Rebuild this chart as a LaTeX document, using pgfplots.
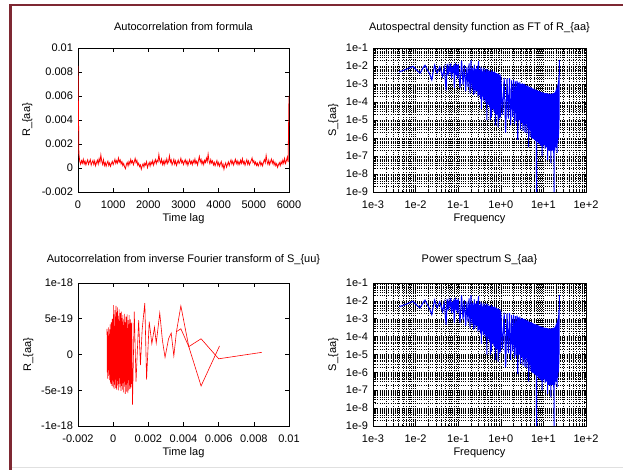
\documentclass[border=0pt]{standalone}
\usepackage{fontspec}
\setmainfont{Liberation Sans}
\usepackage{pgfplots}
\usepackage{pgfplotstable}
\pgfplotsset{compat=1.18}
\definecolor{framered}{HTML}{7E2832}
\newcommand{\gpfont}{\fontsize{11bp}{13bp}\selectfont}

\pgfplotsset{
  gp/.style={
    scale only axis, width=211bp, height=144bp,
    scaled x ticks=false, scaled y ticks=false,
    tick align=inside, major tick length=4bp, minor tick length=2.5bp,
    axis line style={black, line width=0.7bp},
    every tick/.style={black, line width=0.6bp},
    tick label style={font=\gpfont},
    label style={font=\gpfont},
    title style={font=\gpfont, anchor=base},
    /pgf/number format/assume math mode=true,
    xticklabel style={anchor=base, yshift=-16bp},
    yticklabel style={xshift=-1.5bp},
    xlabel style={anchor=base},
    ylabel style={anchor=base},
  },
  gplog/.style={
    gp, width=213bp,
    xmin=1e-3, xmax=1e2, ymin=1e-9, ymax=1e-1,
    xtick={1e-3,1e-2,1e-1,1,10,100},
    xticklabels={1e-3,1e-2,1e-1,1e+0,1e+1,1e+2},
    ytick={1e-9,1e-8,1e-7,1e-6,1e-5,1e-4,1e-3,1e-2,1e-1},
    yticklabels={1e-9,1e-8,1e-7,1e-6,1e-5,1e-4,1e-3,1e-2,1e-1},
    grid=both,
    major grid style={black, line width=0.5bp, dash pattern=on 0.6bp off 1.6bp},
    minor grid style={black, line width=0.5bp, dash pattern=on 0.6bp off 1.6bp},
    xlabel={Frequency}, ylabel={S\_\{aa\}},
  },
}

% spectrum (same data in both right-hand panels)
\pgfplotstableread[row sep=\\]{
f S\\
0.0041 4.7e-3\\ 0.0060 6.5e-3\\ 0.0087 9.5e-3\\ 0.0105 6e-3\\ 0.0127 4e-3\\ 0.0150 8e-3\\
0.0166 1.1e-2\\ 0.0190 6e-3\\ 0.0215 3.5e-3\\ 0.0240 1.7e-3\\ 0.0260 5e-3\\ 0.0280 1.1e-2\\
0.0320 4e-3\\ 0.0370 9e-3\\ 0.0430 2.5e-3\\ 0.0470 8e-3\\ 0.0520 4.5e-4\\ 0.0550 1.3e-2\\
0.0580 3e-3\\ 0.0610 1.0e-2\\ 0.0640 5e-3\\ 0.0670 1.4e-2\\ 0.0700 2e-3\\ 0.0730 9e-3\\
0.0760 4e-3\\ 0.0790 1.2e-2\\ 0.0810 6e-4\\ 0.0840 8e-3\\ 0.0870 1.5e-2\\ 0.0900 3e-3\\
0.0930 1.1e-2\\ 0.0960 2e-3\\
0.10 1.3e-2\\ 0.11 6e-4\\ 0.12 2.0e-2\\ 0.13 9e-4\\ 0.14 1.1e-2\\ 0.15 4e-4\\ 0.16 9e-3\\
0.17 7e-4\\ 0.18 1.4e-2\\ 0.19 3e-4\\ 0.20 2.1e-2\\ 0.21 5e-4\\ 0.22 8e-3\\ 0.23 2.5e-4\\
0.24 1.2e-2\\ 0.25 3e-4\\ 0.26 7e-3\\ 0.27 4e-4\\ 0.28 1.0e-2\\ 0.29 2e-4\\ 0.30 1.9e-2\\
0.31 2.5e-4\\ 0.32 6e-3\\ 0.33 1.5e-4\\ 0.34 9e-3\\ 0.35 4e-5\\ 0.36 7e-3\\ 0.37 2e-4\\
0.38 5e-3\\ 0.39 1.2e-4\\ 0.40 8e-3\\ 0.41 1.5e-4\\ 0.42 6e-3\\ 0.43 9e-5\\ 0.44 4.5e-3\\
0.45 1.2e-4\\ 0.46 7e-3\\ 0.47 1e-5\\ 0.48 5e-3\\ 0.49 1e-4\\ 0.50 6.5e-3\\ 0.51 7e-5\\
0.52 4e-3\\ 0.53 9e-5\\ 0.54 5.5e-3\\ 0.55 5e-5\\ 0.56 4.5e-3\\ 0.57 1e-5\\ 0.58 3.5e-3\\
0.59 4.5e-5\\ 0.60 6e-3\\ 0.61 1.5e-5\\ 0.62 4e-3\\ 0.63 6e-5\\ 0.64 5e-3\\ 0.65 4e-5\\
0.66 3.5e-3\\ 0.67 5e-5\\ 0.68 4.5e-3\\ 0.69 3e-5\\ 0.70 3.8e-3\\ 0.71 4.5e-5\\ 0.72 5e-3\\
0.73 2.5e-5\\ 0.74 3e-3\\ 0.75 5e-6\\ 0.76 4.2e-3\\ 0.77 2e-5\\ 0.78 3.3e-3\\ 0.79 3.5e-5\\
0.80 4e-3\\ 0.81 2e-5\\ 0.82 2.8e-3\\ 0.83 3e-5\\ 0.84 3.6e-3\\ 0.85 1.8e-5\\ 0.86 3e-3\\
0.87 4e-6\\ 0.88 3.8e-3\\ 0.89 2.5e-5\\ 0.90 2.7e-3\\ 0.91 1.5e-5\\ 0.92 3.2e-3\\ 0.93 2.2e-5\\
0.94 2.5e-3\\ 0.95 1.2e-5\\ 0.96 3.4e-3\\ 0.97 2e-5\\ 0.98 2.6e-3\\ 0.99 1.5e-5\\
1.0 2.6e-3\\ 1.1 2e-5\\ 1.2 2.2e-3\\ 1.3 2e-6\\ 1.4 2.0e-3\\ 1.5 1.2e-5\\ 1.6 2.1e-3\\
1.7 5e-6\\ 1.8 1.6e-3\\ 1.9 1.5e-5\\ 2.0 1.7e-3\\ 2.1 6e-6\\ 2.2 1.4e-3\\ 2.3 9e-6\\
2.4 1.5e-3\\ 2.5 8e-7\\ 2.6 1.2e-3\\ 2.7 1e-5\\ 2.8 1.3e-3\\ 2.9 3e-6\\ 3.0 1.0e-3\\
3.1 7e-6\\ 3.2 1.1e-3\\ 3.3 2.5e-6\\ 3.4 9.5e-4\\ 3.5 5e-6\\ 3.6 1.0e-3\\ 3.7 2e-6\\
3.8 8e-4\\ 3.9 6e-6\\ 4.0 8.5e-4\\ 4.1 1.8e-6\\ 4.2 7.5e-4\\ 4.3 4e-6\\ 4.4 8e-4\\
4.5 3e-7\\ 4.6 6.5e-4\\ 4.7 3.5e-6\\ 4.8 7e-4\\ 4.9 1.2e-6\\ 5.0 6e-4\\ 5.1 3e-6\\
5.2 6.5e-4\\ 5.3 1e-6\\ 5.4 5.5e-4\\ 5.5 2.5e-6\\ 5.6 5.8e-4\\ 5.7 9e-7\\ 5.8 5e-4\\
5.9 2e-6\\ 6.0 5.4e-4\\ 6.1 8e-7\\ 6.2 4.6e-4\\ 6.3 1.8e-6\\ 6.4 5e-4\\ 6.5 7e-7\\
6.6 4.3e-4\\ 6.7 1.5e-6\\ 6.8 4.7e-4\\ 6.9 1e-9\\ 7.0 4.0e-4\\ 7.1 1.2e-6\\ 7.2 4.4e-4\\
7.3 6e-7\\ 7.4 3.8e-4\\ 7.5 1.4e-6\\ 7.6 4.2e-4\\ 7.7 5e-7\\ 7.8 3.6e-4\\ 7.9 1e-6\\
8.0 4.0e-4\\ 8.1 4.5e-7\\ 8.2 3.5e-4\\ 8.3 9e-7\\ 8.4 3.8e-4\\ 8.5 4e-7\\ 8.6 3.4e-4\\
8.7 8e-7\\ 8.8 3.6e-4\\ 8.9 3.5e-7\\ 9.0 3.3e-4\\ 9.1 7e-7\\ 9.2 3.5e-4\\ 9.3 1e-7\\
9.4 3.2e-4\\ 9.5 6e-7\\ 9.6 3.4e-4\\ 9.7 3e-7\\ 9.8 3.1e-4\\ 9.9 5e-7\\
10.0 3.3e-4\\ 10.2 4e-7\\ 10.4 3.0e-4\\ 10.6 8e-7\\ 10.8 3.2e-4\\ 11.0 2.5e-7\\ 11.2 2.8e-4\\
11.4 6e-7\\ 11.6 3.1e-4\\ 11.8 3e-7\\ 12.0 2.7e-4\\ 12.2 7e-7\\ 12.4 3.0e-4\\ 12.6 6e-8\\
12.8 2.6e-4\\ 13.0 5e-7\\ 13.2 2.9e-4\\ 13.4 2e-7\\ 13.6 2.5e-4\\ 13.8 6e-7\\ 14.0 2.8e-4\\
14.2 2e-7\\ 14.4 2.6e-4\\ 14.6 5e-7\\ 14.8 2.9e-4\\ 15.0 4e-8\\ 15.2 2.5e-4\\ 15.4 4e-7\\
15.6 2.8e-4\\ 15.8 2e-7\\ 16.0 2.6e-4\\ 16.2 5e-7\\ 16.4 3.0e-4\\ 16.6 2e-7\\ 16.8 2.7e-4\\
17.0 4e-7\\ 17.2 3.1e-4\\ 17.4 1.5e-7\\ 17.6 2.8e-4\\ 17.8 1e-9\\ 18.0 3.2e-4\\ 18.2 3e-7\\
18.4 3.0e-4\\ 18.6 2e-7\\ 18.8 3.5e-4\\ 19.0 5e-7\\ 19.2 3.8e-4\\ 19.4 3e-7\\ 19.6 4.2e-4\\
19.8 6e-7\\ 20.0 4.8e-4\\ 20.2 3e-7\\ 20.4 5.2e-4\\ 20.6 7e-7\\ 20.8 6e-4\\ 21.0 1.5e-7\\
21.2 6.8e-4\\ 21.4 9e-7\\ 21.6 8e-4\\ 21.8 5e-7\\ 22.0 9.5e-4\\ 22.2 1.5e-6\\ 22.4 1.2e-3\\
22.6 1e-6\\ 22.8 1.6e-3\\ 23.0 3e-6\\ 23.2 3e-3\\ 23.4 1e-5\\ 23.6 2.2e-2\\
}\spec

\begin{document}
\begin{tikzpicture}
\path[use as bounding box] (0,0) rectangle (623bp,-470bp);
\draw[black!12, line width=0.8bp] (12bp,-467.5bp) -- (623bp,-467.5bp);
\draw[framered, line width=2.3bp] (10.5bp,-470bp) -- (10.5bp,-5.2bp) -- (623bp,-5.2bp);

% top left
\begin{axis}[gp, at={(78bp,-192bp)}, anchor=south west,
  xmin=0, xmax=6000, ymin=-0.002, ymax=0.01,
  xtick={0,1000,2000,3000,4000,5000,6000},
  xticklabels={0,1000,2000,3000,4000,5000,6000},
  ytick={-0.002,0,0.002,0.004,0.006,0.008,0.01},
  yticklabels={-0.002,0,0.002,0.004,0.006,0.008,0.01},
  title={Autocorrelation from formula}, title style={yshift=12bp},
  xlabel={Time lag}, xlabel style={at={([yshift=-29bp]axis description cs:0.5,0)}},
  ylabel={R\_\{aa\}}, ylabel style={at={([xshift=-48bp]axis description cs:0,0.5)}}]
\addplot[red, line width=0.8bp] coordinates {
(0,8.5e-3)(25,1.2e-3)(50,5.5e-4)(75,3.2e-4)(100,6.1e-4)(125,4.0e-4)(150,7.2e-4)(175,3.5e-4)
(200,5.8e-4)(225,2.6e-4)(250,4.9e-4)(275,6.8e-4)(300,3.1e-4)(325,5.2e-4)(350,7.0e-4)(375,2.4e-4)
(400,4.6e-4)(425,6.3e-4)(450,3.0e-4)(475,5.9e-4)(500,1.9e-4)(525,4.4e-4)(550,6.6e-4)(575,3.3e-4)
(600,7.8e-4)(625,4.8e-4)(650,10.8e-4)(675,5.6e-4)(700,3.0e-4)(725,6.9e-4)(750,2.2e-4)(775,4.5e-4)
(800,1.5e-4)(825,3.9e-4)(850,5.7e-4)(875,2.1e-4)(900,4.2e-4)(925,1.4e-4)(950,3.6e-4)(975,5.5e-4)
(1000,2.8e-4)(1025,4.9e-4)(1050,7.3e-4)(1075,3.8e-4)(1100,6.2e-4)(1125,4.1e-4)(1150,8.3e-4)(1175,5.0e-4)
(1200,6.7e-4)(1225,3.4e-4)(1250,5.3e-4)(1275,2.0e-4)(1300,3.7e-4)(1325,0.8e-4)(1350,-0.6e-4)(1375,2.9e-4)
(1400,4.7e-4)(1425,1.8e-4)(1450,5.4e-4)(1475,3.2e-4)(1500,7.1e-4)(1525,4.3e-4)(1550,6.0e-4)(1575,2.7e-4)
(1600,5.1e-4)(1625,8.0e-4)(1650,4.4e-4)(1675,6.4e-4)(1700,2.3e-4)(1725,3.9e-4)(1750,1.2e-4)(1775,2.6e-4)
(1800,-1.0e-4)(1825,1.7e-4)(1850,3.5e-4)(1875,0.9e-4)(1900,4.0e-4)(1925,2.5e-4)(1950,5.2e-4)(1975,0.3e-4)
(2000,2.8e-4)(2025,4.6e-4)(2050,1.6e-4)(2075,5.0e-4)(2100,3.1e-4)(2125,6.1e-4)(2150,2.4e-4)(2175,4.8e-4)
(2200,7.0e-4)(2225,3.6e-4)(2250,6.5e-4)(2275,5.2e-4)(2300,11.2e-4)(2325,6.0e-4)(2350,4.2e-4)(2375,7.4e-4)
(2400,3.0e-4)(2425,5.7e-4)(2450,2.7e-4)(2475,6.3e-4)(2500,4.0e-4)(2525,7.6e-4)(2550,3.8e-4)(2575,5.5e-4)
(2600,10.1e-4)(2625,4.9e-4)(2650,6.8e-4)(2675,2.6e-4)(2700,4.5e-4)(2725,7.2e-4)(2750,3.3e-4)(2775,5.9e-4)
(2800,2.1e-4)(2825,4.4e-4)(2850,6.6e-4)(2875,3.7e-4)(2900,5.1e-4)(2925,8.1e-4)(2950,4.3e-4)(2975,6.0e-4)
(3000,2.9e-4)(3025,5.3e-4)(3050,7.0e-4)(3075,3.4e-4)(3100,5.8e-4)(3125,2.2e-4)(3150,4.7e-4)(3175,6.9e-4)
(3200,3.6e-4)(3225,5.5e-4)(3250,2.8e-4)(3275,6.3e-4)(3300,4.1e-4)(3325,7.5e-4)(3350,3.9e-4)(3375,5.6e-4)
(3400,2.5e-4)(3425,6.2e-4)(3450,9.6e-4)(3475,5.0e-4)(3500,7.1e-4)(3525,3.3e-4)(3550,5.8e-4)(3575,2.9e-4)
(3600,6.4e-4)(3625,4.6e-4)(3650,8.2e-4)(3675,5.3e-4)(3700,11.6e-4)(3725,6.1e-4)(3750,3.5e-4)(3775,7.0e-4)
(3800,4.2e-4)(3825,5.9e-4)(3850,2.6e-4)(3875,4.8e-4)(3900,1.9e-4)(3925,4.0e-4)(3950,6.2e-4)(3975,2.3e-4)
(4000,4.5e-4)(4025,1.5e-4)(4050,3.8e-4)(4075,5.4e-4)(4100,1.1e-4)(4125,3.2e-4)(4150,-1.0e-4)(4175,2.4e-4)
(4200,4.3e-4)(4225,0.7e-4)(4250,3.0e-4)(4275,5.1e-4)(4300,2.0e-4)(4325,4.6e-4)(4350,6.8e-4)(4375,3.4e-4)
(4400,5.7e-4)(4425,2.5e-4)(4450,4.9e-4)(4475,7.3e-4)(4500,3.7e-4)(4525,6.0e-4)(4550,2.8e-4)(4575,5.2e-4)
(4600,3.1e-4)(4625,6.5e-4)(4650,4.0e-4)(4675,7.7e-4)(4700,3.6e-4)(4725,5.5e-4)(4750,2.4e-4)(4775,4.7e-4)
(4800,6.9e-4)(4825,3.2e-4)(4850,5.8e-4)(4875,2.7e-4)(4900,4.4e-4)(4925,6.3e-4)(4950,8.4e-4)(4975,4.6e-4)
(5000,6.1e-4)(5025,3.0e-4)(5050,5.0e-4)(5075,2.2e-4)(5100,4.1e-4)(5125,1.6e-4)(5150,3.5e-4)(5175,5.6e-4)
(5200,2.3e-4)(5225,4.2e-4)(5250,1.8e-4)(5275,4.9e-4)(5300,7.0e-4)(5325,4.4e-4)(5350,10.4e-4)(5375,5.5e-4)
(5400,3.1e-4)(5425,6.4e-4)(5450,2.9e-4)(5475,5.2e-4)(5500,7.4e-4)(5525,3.9e-4)(5550,6.1e-4)(5575,2.6e-4)
(5600,4.8e-4)(5625,1.9e-4)(5650,3.6e-4)(5675,0.6e-4)(5700,2.8e-4)(5725,4.5e-4)(5750,2.0e-4)(5775,5.3e-4)
(5800,3.3e-4)(5825,6.6e-4)(5850,4.1e-4)(5875,7.9e-4)(5900,3.8e-4)(5925,6.0e-4)(5950,9.0e-4)(5975,5.0e-4)
(6000,6.0e-3)};
\end{axis}

% top right
\begin{loglogaxis}[gplog, at={(373bp,-192bp)}, anchor=south west,
  title={Autospectral density function as FT of R\_\{aa\}}, title style={yshift=12bp},
  xlabel style={at={([yshift=-29bp]axis description cs:0.5,0)}},
  ylabel style={at={([xshift=-37bp]axis description cs:0,0.5)}}]
\addplot[blue, line width=1bp] table[x=f, y=S] {\spec};
\end{loglogaxis}

% bottom left
\begin{axis}[gp, height=143bp, at={(78bp,-426bp)}, anchor=south west,
  xmin=-0.002, xmax=0.01, ymin=-1e-18, ymax=1e-18,
  xtick={-0.002,0,0.002,0.004,0.006,0.008,0.01},
  xticklabels={-0.002,0,0.002,0.004,0.006,0.008,0.01},
  ytick={-1e-18,-5e-19,0,5e-19,1e-18},
  yticklabels={-1e-18,-5e-19,0,5e-19,1e-18},
  title={Autocorrelation from inverse Fourier transform of S\_\{uu\}}, title style={yshift=14.5bp},
  xlabel={Time lag}, xlabel style={at={([yshift=-29.5bp]axis description cs:0.5,0)}},
  ylabel={R\_\{aa\}}, ylabel style={at={([xshift=-47bp]axis description cs:0,0.5)}}]
\addplot[red, line width=0.6bp] coordinates {
(-3.50e-4,3.6e-19)(-3.35e-4,-2.5e-19)(-3.20e-4,3.2e-19)(-3.05e-4,-3.4e-19)(-2.90e-4,2.0e-19)
(-2.75e-4,-3.0e-19)(-2.60e-4,3.8e-19)(-2.45e-4,-2.2e-19)(-2.30e-4,2.9e-19)(-2.15e-4,-3.6e-19)
(-2.00e-4,3.5e-19)(-1.85e-4,-2.8e-19)(-1.70e-4,4.2e-19)(-1.55e-4,-3.9e-19)(-1.40e-4,2.6e-19)
(-1.25e-4,-4.1e-19)(-1.10e-4,4.5e-19)(-0.95e-4,-3.0e-19)(-0.80e-4,3.9e-19)(-0.65e-4,-4.4e-19)
(-0.50e-4,5.0e-19)(-0.35e-4,-3.6e-19)(-0.20e-4,4.4e-19)(-0.05e-4,-4.6e-19)(0.10e-4,6.9e-19)
(0.25e-4,-3.8e-19)(0.40e-4,5.6e-19)(0.55e-4,-4.8e-19)(0.70e-4,4.0e-19)(0.85e-4,-4.2e-19)
(1.00e-4,6.2e-19)(1.15e-4,-3.5e-19)(1.30e-4,5.2e-19)(1.45e-4,-4.7e-19)(1.60e-4,6.8e-19)
(1.75e-4,-3.9e-19)(1.90e-4,4.6e-19)(2.05e-4,-4.9e-19)(2.20e-4,5.9e-19)(2.35e-4,-4.3e-19)
(2.50e-4,6.6e-19)(2.65e-4,-3.7e-19)(2.80e-4,4.9e-19)(2.95e-4,-5.0e-19)(3.10e-4,5.4e-19)
(3.25e-4,-4.1e-19)(3.40e-4,6.3e-19)(3.55e-4,-3.3e-19)(3.70e-4,4.7e-19)(3.85e-4,-4.6e-19)
(4.00e-4,5.8e-19)(4.15e-4,-3.9e-19)(4.30e-4,4.3e-19)(4.45e-4,-5.1e-19)(4.60e-4,6.0e-19)
(4.75e-4,-4.4e-19)(4.90e-4,5.1e-19)(5.05e-4,-3.6e-19)(5.20e-4,4.6e-19)(5.35e-4,-4.9e-19)
(5.50e-4,5.5e-19)(5.65e-4,-4.0e-19)(5.80e-4,4.1e-19)(5.95e-4,-5.3e-19)(6.10e-4,4.9e-19)
(6.25e-4,-3.8e-19)(6.40e-4,5.7e-19)(6.55e-4,-4.5e-19)(6.70e-4,3.9e-19)(6.85e-4,-5.5e-19)
(7.00e-4,4.5e-19)(7.15e-4,-4.2e-19)(7.30e-4,5.3e-19)(7.45e-4,-3.4e-19)(7.60e-4,4.0e-19)
(7.75e-4,-5.2e-19)(7.90e-4,5.6e-19)(8.05e-4,-4.0e-19)(8.20e-4,3.7e-19)(8.35e-4,-5.4e-19)
(8.50e-4,4.8e-19)(8.65e-4,-3.6e-19)(8.80e-4,4.2e-19)(8.95e-4,-5.0e-19)(9.10e-4,5.5e-19)
(9.25e-4,-4.3e-19)(9.40e-4,3.8e-19)(9.55e-4,-4.8e-19)(9.70e-4,4.9e-19)(9.85e-4,-3.5e-19)
(10.00e-4,4.4e-19)(10.15e-4,-4.6e-19)(10.30e-4,3.6e-19)(10.45e-4,-4.1e-19)(10.60e-4,4.5e-19)
(1.10e-3,-7.0e-19)(1.20e-3,6.0e-19)(1.30e-3,-3.8e-19)(1.45e-3,4.8e-19)(1.55e-3,-1.5e-19)
(1.65e-3,3.5e-19)(1.80e-3,7.2e-19)(1.90e-3,-3.5e-19)(2.05e-3,4.6e-19)(2.20e-3,1.5e-19)
(2.35e-3,3.8e-19)(2.45e-3,1.6e-19)(2.65e-3,5.8e-19)(2.80e-3,2.0e-19)(2.95e-3,-0.4e-19)
(3.15e-3,2.2e-19)(3.30e-3,3.0e-19)(3.45e-3,-0.2e-19)(3.60e-3,3.2e-19)(3.85e-3,6.8e-19)
(4.30e-3,1.1e-19)(5.00e-3,2.2e-19)(6.00e-3,-0.6e-19)(8.45e-3,0.3e-19)};
\addplot[red, line width=0.6bp] coordinates {
(3.60e-3,3.2e-19)(3.85e-3,3.6e-19)(4.30e-3,1.1e-19)(5.00e-3,-4.4e-19)(6.05e-3,1.2e-19)};
\end{axis}

% bottom right
\begin{loglogaxis}[gplog, height=143bp, at={(373bp,-426bp)}, anchor=south west,
  title={Power spectrum S\_\{aa\}}, title style={yshift=14.5bp},
  xlabel style={at={([yshift=-29.5bp]axis description cs:0.5,0)}},
  ylabel style={at={([xshift=-37bp]axis description cs:0,0.5)}}]
\addplot[blue, line width=1bp] table[x=f, y=S] {\spec};
\end{loglogaxis}
\end{tikzpicture}
\end{document}
